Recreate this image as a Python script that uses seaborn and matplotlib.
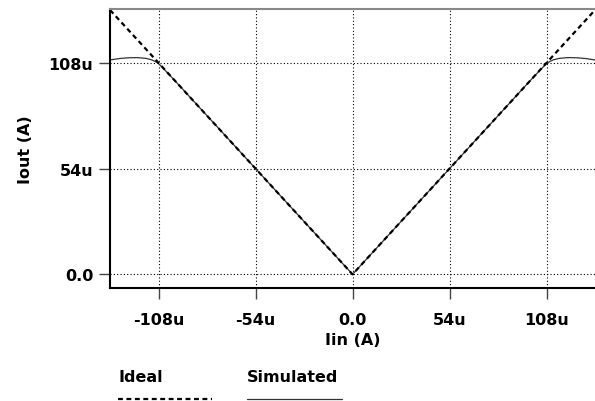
import numpy as np
import pandas as pd
import matplotlib
matplotlib.use("Agg")
import matplotlib.pyplot as plt
import seaborn as sns
from matplotlib.lines import Line2D

# Data (units: microamps)
iin = [-135, -130, -125, -120, -115, -112, -110, -108, -106, -100, -54, 0,
       54, 100, 106, 108, 110, 112, 115, 120, 125, 130, 135]
ideal = [abs(v) for v in iin]
simulated = [109.5, 110.2, 110.6, 110.7, 110.3, 109.6, 108.8, 107.6, 105.8, 100, 54, 0,
             54, 100, 105.8, 107.6, 108.8, 109.6, 110.3, 110.7, 110.6, 110.2, 109.5]
xticks = [-108, -54, 0, 54, 108]
xticklabels = ["-108u", "-54u", "0.0", "54u", "108u"]
yticks = [0, 54, 108]
yticklabels = ["0.0", "54u", "108u"]

df = pd.DataFrame({
    "Iin": iin * 2,
    "Iout": ideal + simulated,
    "series": ["Ideal"] * len(iin) + ["Simulated"] * len(iin),
})

sns.set_theme(style="white")
plt.rcParams["font.family"] = ["DejaVu Sans"]
plt.rcParams["font.weight"] = "bold"
plt.rcParams["text.color"] = "black"
plt.rcParams["axes.labelcolor"] = "black"
plt.rcParams["xtick.color"] = "black"
plt.rcParams["ytick.color"] = "black"

FS = 11.5

fig = plt.figure(figsize=(5.95, 4.02), dpi=100)
ax = fig.add_axes([0.185, 0.281, 0.815, 0.694])

sns.lineplot(data=df[df.series == "Simulated"], x="Iin", y="Iout", ax=ax,
             color="#333333", linewidth=0.9, legend=False, sort=False)
sns.lineplot(data=df[df.series == "Ideal"], x="Iin", y="Iout", ax=ax,
             color="black", linewidth=1.6, linestyle=(0, (2.2, 1.6)), legend=False, sort=False)

ax.set_xlim(-135, 135)
ax.set_ylim(-7, 135.5)
ax.set_xticks(xticks)
ax.set_xticklabels(xticklabels, fontsize=FS, fontweight="bold")
ax.set_yticks(yticks)
ax.set_yticklabels(yticklabels, fontsize=FS, fontweight="bold")
ax.grid(True, color="black", linestyle=(0, (1, 2)), linewidth=0.8)
ax.tick_params(axis="both", direction="out", length=8, width=1, color="#444444",
               pad=4, left=True, bottom=True, labelcolor="black")
ax.tick_params(axis="x", pad=9)

for s in ["left", "bottom"]:
    ax.spines[s].set_color("black")
    ax.spines[s].set_linewidth(1.5)
ax.spines["top"].set_color("#888888")
ax.spines["top"].set_linewidth(1.5)
ax.spines["right"].set_visible(False)

ax.set_xlabel("Iin (A)", fontsize=FS, fontweight="bold", labelpad=4, color="black")
ax.set_ylabel("Iout (A)", fontsize=FS, fontweight="bold", labelpad=11, color="black")

# Legend below
fig.text(118/595, 1 - 378/402, "Ideal", fontsize=FS, fontweight="bold", va="center", ha="left")
fig.text(247/595, 1 - 378/402, "Simulated", fontsize=FS, fontweight="bold", va="center", ha="left")
fig.add_artist(Line2D([118/595, 212/595], [1 - 400/402] * 2, transform=fig.transFigure,
                      color="black", linewidth=1.6, linestyle=(0, (2.2, 1.6))))
fig.add_artist(Line2D([247/595, 342/595], [1 - 400/402] * 2, transform=fig.transFigure,
                      color="#333333", linewidth=0.9))

fig.savefig("out.png", dpi=100)
